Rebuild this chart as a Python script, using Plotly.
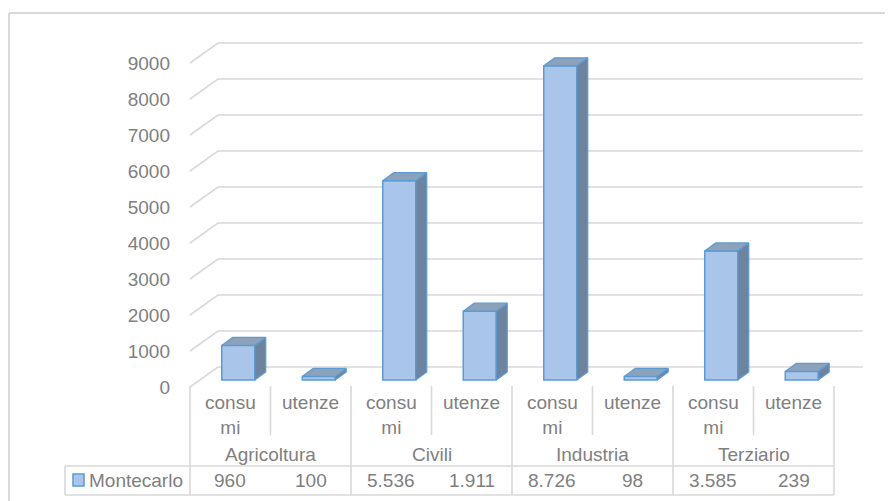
import plotly.graph_objects as go

# ---------------- data ----------------
sectors = ["Agricoltura", "Civili", "Industria", "Terziario"]
measure_labels = ["consu<br>mi", "utenze"]
series_name = "Montecarlo"
values = [960, 100, 5536, 1911, 8726, 98, 3585, 239]
y_ticks = [0, 1000, 2000, 3000, 4000, 5000, 6000, 7000, 8000, 9000]

# ---------------- geometry / style ----------------
SCREEN_W, SCREEN_H = 893, 501
OFF = 8               # page body margin
W, H = SCREEN_W - OFF, SCREEN_H - OFF
COL_W = 80.5          # px per category column
X_FLOOR = 190         # px (screen), left edge of the front floor / table
Y_BASE = 380          # px (screen), bar base (value 0)
K = 0.036             # px per value unit

GRID = "#d9d9d9"
TXT = "#808080"
FONT = "Liberation Sans, Arial, sans-serif"
FRONT = "#a9c6ea"
SIDE = "#6d84a0"
TOP = "#8ca1ba"
EDGE = "#5b9bd5"


def ux(px):  # px distance -> x units
    return px / COL_W


def uy(px):  # px distance -> value units
    return px / K


def X(px):  # screen px position -> x data
    return (px - X_FLOOR) / COL_W - 0.5


def Y(px):  # screen px position -> y data
    return (Y_BASE - px) / K


fig = go.Figure()

# front faces
bar_shift = ux(8)
bar_w = ux(33)
xs = [i + bar_shift for i in range(len(values))]
fig.add_trace(go.Bar(
    x=xs, y=values, base=0, width=bar_w,
    marker=dict(color=FRONT, line=dict(color=EDGE, width=1.5)),
    hoverinfo="skip", showlegend=False,
))

# 3D side and top faces
ddx, ddy = ux(11), uy(8)
side_x, side_y, top_x, top_y = [], [], [], []
for xc, v in zip(xs, values):
    x0, x1 = xc - bar_w / 2, xc + bar_w / 2
    side_x += [x1, x1 + ddx, x1 + ddx, x1, x1, None]
    side_y += [0, ddy, v + ddy, v, 0, None]
    top_x += [x0, x1, x1 + ddx, x0 + ddx, x0, None]
    top_y += [v, v, v + ddy, v + ddy, v, None]
fig.add_trace(go.Scatter(x=side_x, y=side_y, mode="lines", fill="toself",
                         fillcolor=SIDE, line=dict(color=EDGE, width=1.2),
                         hoverinfo="skip", showlegend=False))
fig.add_trace(go.Scatter(x=top_x, y=top_y, mode="lines", fill="toself",
                         fillcolor=TOP, line=dict(color=EDGE, width=1.2),
                         hoverinfo="skip", showlegend=False))

shapes = []
# gridlines (front edge -> back wall -> right)
for t in y_ticks:
    path = "M {},{} L {},{} L {},{}".format(
        X(190), t - uy(7), X(218), t + uy(13), X(863), t + uy(13))
    shapes.append(dict(type="path", path=path, xref="x", yref="y",
                       line=dict(color=GRID, width=1.6), layer="below"))

n = len(values)
# table verticals
for j in range(n + 1):
    bottom = 495 if j % 2 == 0 else 435
    shapes.append(dict(type="line", xref="x", yref="y",
                       x0=j - 0.5, x1=j - 0.5, y0=Y(386), y1=Y(bottom),
                       line=dict(color=GRID, width=1.6), layer="below"))
# table horizontals (legend row)
for yp in (466, 495):
    shapes.append(dict(type="line", xref="x", yref="y",
                       x0=X(65), x1=n - 0.5, y0=Y(yp), y1=Y(yp),
                       line=dict(color=GRID, width=1.6), layer="below"))
shapes.append(dict(type="line", xref="x", yref="y",
                   x0=X(65), x1=X(65), y0=Y(466), y1=Y(495),
                   line=dict(color=GRID, width=1.6), layer="below"))
# legend key
shapes.append(dict(type="rect", xref="x", yref="y",
                   x0=X(73), x1=X(84), y0=Y(486), y1=Y(474),
                   fillcolor=FRONT, line=dict(color=EDGE, width=1.5)))
# chart-area border
shapes.append(dict(type="line", xref="x", yref="y",
                   x0=X(9), x1=X(SCREEN_W), y0=Y(13), y1=Y(13),
                   line=dict(color=GRID, width=2)))
shapes.append(dict(type="line", xref="x", yref="y",
                   x0=X(9), x1=X(9), y0=Y(13), y1=Y(SCREEN_H),
                   line=dict(color=GRID, width=2)))

annotations = []
fnt = dict(family=FONT, size=19, color=TXT)
for i in range(n):
    annotations.append(dict(x=i, y=Y(390), xref="x", yref="y",
                            text=measure_labels[i % 2], showarrow=False,
                            xanchor="center", yanchor="top", font=fnt))
    annotations.append(dict(x=i, y=Y(480), xref="x", yref="y",
                            text=f"{values[i]:,}".replace(",", "."),
                            showarrow=False, xanchor="center",
                            yanchor="middle", font=fnt))
for g, s in enumerate(sectors):
    annotations.append(dict(x=2 * g + 0.5, y=Y(454), xref="x", yref="y",
                            text=s, showarrow=False, xanchor="center",
                            yanchor="middle", font=fnt))
annotations.append(dict(x=X(87), y=Y(480), xref="x", yref="y",
                        text=series_name, showarrow=False, xanchor="left",
                        yanchor="middle", font=fnt))

fig.update_layout(
    width=W, height=H,
    margin=dict(l=0, r=0, t=0, b=0),
    paper_bgcolor="white", plot_bgcolor="white",
    shapes=shapes, annotations=annotations,
    showlegend=False,
    xaxis=dict(range=[X(OFF), X(SCREEN_W)], visible=False, fixedrange=True),
    yaxis=dict(range=[Y(SCREEN_H), Y(OFF)], anchor="free",
               position=(X_FLOOR - OFF) / W,
               tickvals=y_ticks, ticktext=[str(t) for t in y_ticks],
               showgrid=False, zeroline=False, showline=False, ticks="",
               ticklabelstandoff=20, ticklabelshift=7,
               tickfont=fnt, automargin=False, fixedrange=True),
)

fig.write_html("out.html")
